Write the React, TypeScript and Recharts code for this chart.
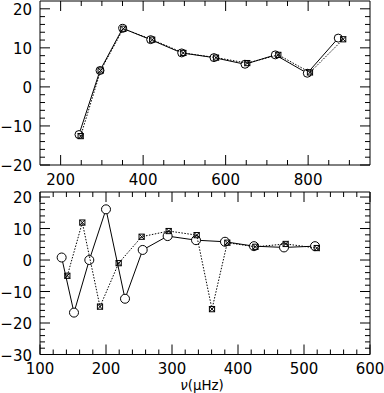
import React from 'react';
import { ScatterChart, Scatter, XAxis, YAxis } from 'recharts';

// ---- Top panel data ----
const topCircleX = [244.5, 295.5, 350.4, 418.3, 493.5, 571.8, 647, 720.5, 798, 873];
const topCircleY = [-12.2, 4.2, 15.0, 12.1, 8.7, 7.5, 5.8, 8.2, 3.5, 12.5];
const topStarX = [248.6, 297, 352, 422, 497.5, 576.7, 652.5, 727.7, 804.5, 885];
const topStarY = [-12.6, 4.2, 14.9, 12.1, 8.7, 7.5, 6.1, 8.2, 3.7, 12.2];

// ---- Bottom panel data ----
const botCircleX = [132.8, 151.5, 174.7, 200, 228.8, 255.6, 293.4, 336.4, 380.3, 424.2, 469.7, 516.7];
const botCircleY = [0.8, -16.7, 0, 16.1, -12.3, 3.2, 7.6, 6.3, 5.8, 4.4, 4.0, 4.4];
const botStarX = [141.4, 164.1, 190.9, 219.2, 254, 295, 337.4, 360.6, 383.8, 426.3, 472.2, 519.3];
const botStarY = [-5.0, 11.9, -14.8, -1, 7.4, 9.2, 7.9, -15.6, 5.5, 4.2, 5.1, 3.8];

// ---- Ticks ----
const topXTicks = [200, 250, 300, 350, 400, 450, 500, 550, 600, 650, 700, 750, 800, 850, 900];
const topXLabels = [200, 400, 600, 800];
const topYTicks = [-20, -18, -16, -14, -12, -10, -8, -6, -4, -2, 0, 2, 4, 6, 8, 10, 12, 14, 16, 18, 20];
const topYLabels = [-20, -10, 0, 10, 20];

const botXTicks = [100, 120, 140, 160, 180, 200, 220, 240, 260, 280, 300, 320, 340, 360, 380, 400, 420, 440, 460, 480, 500, 520, 540, 560, 580, 600];
const botXLabels = [100, 200, 300, 400, 500, 600];
const botYTicks = [-30, -28, -26, -24, -22, -20, -18, -16, -14, -12, -10, -8, -6, -4, -2, 0, 2, 4, 6, 8, 10, 12, 14, 16, 18, 20];
const botYLabels = [-30, -20, -10, 0, 10, 20];

const FONT = "'DejaVu Sans', sans-serif";
const FS = 15;
const MAJOR = 10;
const MINOR = 5;

const fmt = (v: number) => (v < 0 ? '\u2212' + Math.abs(v) : String(v));

type Side = 'bottom' | 'top' | 'left' | 'right';

const makeTick = (side: Side, labels: number[], showLabel: boolean, labelDist: number) => (props: any) => {
  const { x, y, payload } = props;
  const v = payload.value;
  const major = labels.indexOf(v) >= 0;
  const len = major ? MAJOR : MINOR;
  let x2 = x, y2 = y;
  if (side === 'bottom') y2 = y - len;
  if (side === 'top') y2 = y + len;
  if (side === 'left') x2 = x + len;
  if (side === 'right') x2 = x - len;
  let label: React.ReactNode = null;
  if (showLabel && major) {
    if (side === 'bottom') {
      label = (
        <text x={x} y={y + labelDist} textAnchor="middle" dominantBaseline="central" fontFamily={FONT} fontSize={FS} fill="#000">
          {fmt(v)}
        </text>
      );
    } else if (side === 'left') {
      label = (
        <text x={x - labelDist} y={y + 1} textAnchor="end" dominantBaseline="central" fontFamily={FONT} fontSize={FS} fill="#000">
          {fmt(v)}
        </text>
      );
    }
  }
  return (
    <g>
      <line x1={x} y1={y} x2={x2} y2={y2} stroke="#000" strokeWidth={1} />
      {label}
    </g>
  );
};

const CircleShape = (r: number) => (p: any) => (
  <circle cx={p.cx} cy={p.cy} r={r} fill="#fff" stroke="#000" strokeWidth={1} />
);

const StarShape = (p: any) => {
  const h = 2.6;
  const { cx, cy } = p;
  return (
    <g>
      <rect x={cx - h} y={cy - h} width={2 * h} height={2 * h} fill="none" stroke="#000" strokeWidth={1} />
      <line x1={cx - h} y1={cy - h} x2={cx + h} y2={cy + h} stroke="#000" strokeWidth={1} />
      <line x1={cx - h} y1={cy + h} x2={cx + h} y2={cy - h} stroke="#000" strokeWidth={1} />
    </g>
  );
};

const NuLabel = (props: any) => {
  const vb = props.viewBox || { x: 40, y: 164.5, width: 330, height: 0 };
  return (
    <text x={vb.x + vb.width / 2 - 3} y={vb.y + 30.7} textAnchor="middle" dominantBaseline="central" fontFamily={FONT} fontSize={13.4} fill="#000">
      <tspan fontStyle="italic">ν</tspan>(μHz)
    </text>
  );
};

const toPts = (xs: number[], ys: number[]) => xs.map((x, i) => ({ x, y: ys[i] }));

const axisLine = { stroke: '#000', strokeWidth: 1 };

export default function App() {
  const topCircles = toPts(topCircleX, topCircleY);
  const topStars = toPts(topStarX, topStarY);
  const botCircles = toPts(botCircleX, botCircleY);
  const botStars = toPts(botStarX, botStarY);

  return (
    <div style={{ position: 'absolute', left: 0, top: 0, width: 384, height: 393, background: '#fff' }}>
      <div style={{ position: 'absolute', left: 0, top: 0 }}>
        <ScatterChart width={384} height={190} margin={{ top: 0, right: 13, bottom: 24, left: 39 }}>
          <XAxis xAxisId="b" type="number" dataKey="x" domain={[150, 950]} ticks={topXTicks} interval={0}
            tickLine={false} tickSize={0} tickMargin={0} height={1} axisLine={axisLine}
            tick={makeTick('bottom', topXLabels, true, 15)} allowDataOverflow />
          <XAxis xAxisId="t" orientation="top" type="number" dataKey="x" domain={[150, 950]} ticks={topXTicks} interval={0}
            tickLine={false} tickSize={0} tickMargin={0} height={1} axisLine={axisLine}
            tick={makeTick('top', topXLabels, false, 0)} allowDataOverflow />
          <YAxis yAxisId="l" type="number" dataKey="y" domain={[-20, 22]} ticks={topYTicks} interval={0}
            tickLine={false} tickSize={0} tickMargin={0} width={1} axisLine={axisLine}
            tick={makeTick('left', topYLabels, true, 8)} allowDataOverflow />
          <YAxis yAxisId="r" orientation="right" type="number" dataKey="y" domain={[-20, 22]} ticks={topYTicks} interval={0}
            tickLine={false} tickSize={0} tickMargin={0} width={1} axisLine={axisLine}
            tick={makeTick('right', topYLabels, false, 0)} allowDataOverflow />
          <Scatter xAxisId="b" yAxisId="l" data={topCircles} line={{ stroke: '#000', strokeWidth: 1 }}
            shape={CircleShape(4)} isAnimationActive={false} />
          <Scatter xAxisId="b" yAxisId="l" data={topStars} line={{ stroke: '#000', strokeWidth: 1, strokeDasharray: '1.5 1.5' }}
            shape={StarShape} isAnimationActive={false} />
        </ScatterChart>
      </div>
      <div style={{ position: 'absolute', left: 0, top: 190 }}>
        <ScatterChart width={384} height={203} margin={{ top: 1, right: 13, bottom: 37.5, left: 39 }}>
          <XAxis xAxisId="b" type="number" dataKey="x" domain={[100, 600]} ticks={botXTicks} interval={0}
            tickLine={false} tickSize={0} tickMargin={0} height={1} axisLine={axisLine}
            tick={makeTick('bottom', botXLabels, true, 14)} allowDataOverflow label={<NuLabel />} />
          <XAxis xAxisId="t" orientation="top" type="number" dataKey="x" domain={[100, 600]} ticks={botXTicks} interval={0}
            tickLine={false} tickSize={0} tickMargin={0} height={1} axisLine={axisLine}
            tick={makeTick('top', botXLabels, false, 0)} allowDataOverflow />
          <YAxis yAxisId="l" type="number" dataKey="y" domain={[-30, 21.6]} ticks={botYTicks} interval={0}
            tickLine={false} tickSize={0} tickMargin={0} width={1} axisLine={axisLine}
            tick={makeTick('left', botYLabels, true, 8)} allowDataOverflow />
          <YAxis yAxisId="r" orientation="right" type="number" dataKey="y" domain={[-30, 21.6]} ticks={botYTicks} interval={0}
            tickLine={false} tickSize={0} tickMargin={0} width={1} axisLine={axisLine}
            tick={makeTick('right', botYLabels, false, 0)} allowDataOverflow />
          <Scatter xAxisId="b" yAxisId="l" data={botCircles} line={{ stroke: '#000', strokeWidth: 1 }}
            shape={CircleShape(4.5)} isAnimationActive={false} />
          <Scatter xAxisId="b" yAxisId="l" data={botStars} line={{ stroke: '#000', strokeWidth: 1, strokeDasharray: '1.5 1.5' }}
            shape={StarShape} isAnimationActive={false} />
        </ScatterChart>
      </div>
    </div>
  );
}
